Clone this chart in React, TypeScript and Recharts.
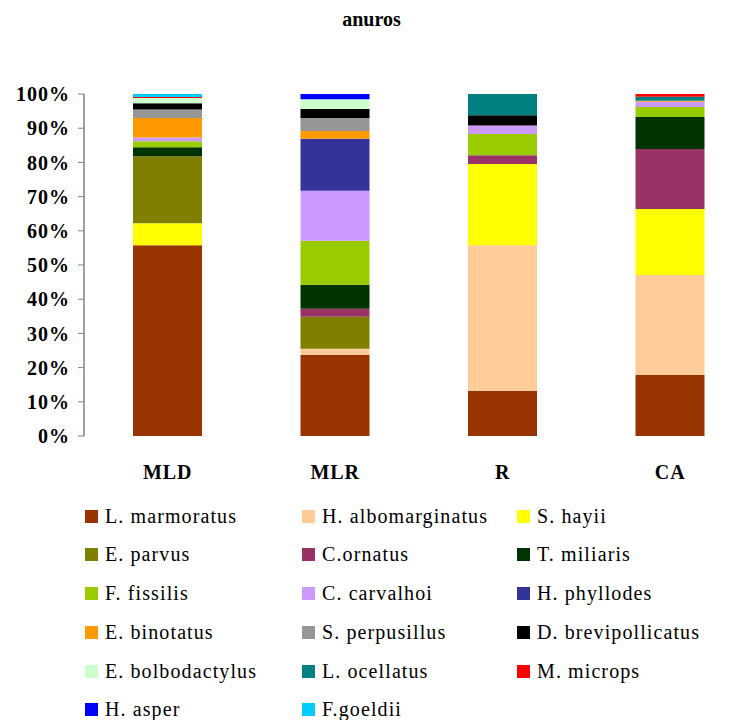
import { BarChart, Bar, XAxis, YAxis } from "recharts"

const categories = ["MLD", "MLR", "R", "CA"]

const lMarmoratus = [55.8, 23.7, 13.2, 17.8]
const hAlbomarginatus = [0, 1.8, 42.6, 29.3]
const sHayii = [6.4, 0, 23.7, 19.3]
const eParvus = [19.6, 9.4, 0, 0]
const cOrnatus = [0, 2.3, 2.6, 17.5]
const tMiliaris = [2.6, 7.0, 0, 9.4]
const fFissilis = [1.8, 12.9, 6.2, 2.9]
const cCarvalhoi = [1.1, 14.6, 2.5, 1.5]
const hPhyllodes = [0, 15.2, 0, 0]
const eBinotatus = [5.7, 2.3, 0, 0.3]
const sPerpusillus = [2.5, 3.8, 0, 0]
const dBrevipollicatus = [1.8, 2.6, 3.0, 0]
const eBolbodactylus = [1.5, 2.9, 0, 0]
const lOcellatus = [0, 0, 6.2, 1.2]
const mMicrops = [0.3, 0, 0, 0.8]
const hAsper = [0, 1.5, 0, 0]
const fGoeldii = [0.9, 0, 0, 0]

const yTicks = [0, 10, 20, 30, 40, 50, 60, 70, 80, 90, 100]
const edgeTicks = [0, 1, 2, 3, 4]

const series = [
  { key: "s1", name: "L. marmoratus", values: lMarmoratus, color: "#993300" },
  { key: "s2", name: "H. albomarginatus", values: hAlbomarginatus, color: "#FFCC99" },
  { key: "s3", name: "S. hayii", values: sHayii, color: "#FFFF00" },
  { key: "s4", name: "E. parvus", values: eParvus, color: "#808000" },
  { key: "s5", name: "C.ornatus", values: cOrnatus, color: "#993366" },
  { key: "s6", name: "T. miliaris", values: tMiliaris, color: "#003300" },
  { key: "s7", name: "F. fissilis", values: fFissilis, color: "#99CC00" },
  { key: "s8", name: "C. carvalhoi", values: cCarvalhoi, color: "#CC99FF" },
  { key: "s9", name: "H. phyllodes", values: hPhyllodes, color: "#333399" },
  { key: "s10", name: "E. binotatus", values: eBinotatus, color: "#FF9900" },
  { key: "s11", name: "S. perpusillus", values: sPerpusillus, color: "#969696" },
  { key: "s12", name: "D. brevipollicatus", values: dBrevipollicatus, color: "#000000" },
  { key: "s13", name: "E. bolbodactylus", values: eBolbodactylus, color: "#CCFFCC" },
  { key: "s14", name: "L. ocellatus", values: lOcellatus, color: "#008080" },
  { key: "s15", name: "M. microps", values: mMicrops, color: "#FF0000" },
  { key: "s16", name: "H. asper", values: hAsper, color: "#0000FF" },
  { key: "s17", name: "F.goeldii", values: fGoeldii, color: "#00CCFF" },
]

const data = categories.map((cat, i) => {
  const row: Record<string, string | number> = { cat }
  series.forEach((s) => {
    row[s.key] = s.values[i]
  })
  return row
})

const serif = "Liberation Serif, DejaVu Serif, serif"

function Legend3Col() {
  return (
    <div
      style={{
        position: "absolute",
        left: 85,
        top: 505,
        display: "grid",
        gridTemplateColumns: "217px 215px 220px",
        gridAutoRows: "38.8px",
        fontFamily: serif,
        fontSize: 20,
        letterSpacing: 1.1,
        color: "#000",
      }}
    >
      {series.map((s) => (
        <div key={s.key} style={{ display: "flex", alignItems: "center", height: 22, whiteSpace: "nowrap" }}>
          <span style={{ width: 13, height: 13, background: s.color, marginRight: 7, flex: "none" }} />
          <span>{s.name}</span>
        </div>
      ))}
    </div>
  )
}

export default function App() {
  return (
    <div
      style={{
        position: "fixed",
        top: 0,
        left: 0,
        width: 743,
        height: 720,
        overflow: "hidden",
        background: "#fff",
      }}
    >
      <div
        style={{
          position: "absolute",
          top: 8,
          left: 0,
          width: 743,
          textAlign: "center",
          fontFamily: serif,
          fontWeight: "bold",
          fontSize: 20,
        }}
      >
        anuros
      </div>
      <BarChart
        width={760}
        height={500}
        data={data}
        margin={{ top: 94, right: 6, left: 0, bottom: 24 }}
        barSize={69}
      >
        <XAxis
          xAxisId="edge"
          type="number"
          domain={[0, 4]}
          ticks={edgeTicks}
          tick={false}
          tickSize={6}
          height={0}
          stroke="#000"
          axisLine={{ stroke: "#000", strokeWidth: 1.5 }}
          tickLine={{ stroke: "#000" }}
        />
        <XAxis
          xAxisId="cat"
          dataKey="cat"
          height={40}
          axisLine={false}
          tickLine={false}
          tickMargin={23}
          tick={{ fill: "#000", fontSize: 20, fontWeight: "bold", fontFamily: serif, letterSpacing: 1 }}
        />
        <YAxis
          width={84}
          domain={[0, 100]}
          ticks={yTicks}
          tickFormatter={(v) => `${v}%`}
          tickSize={6}
          tickMargin={8}
          axisLine={{ stroke: "#808080", strokeWidth: 1.5 }}
          tickLine={{ stroke: "#808080" }}
          tick={{ fill: "#000", fontSize: 20, fontWeight: "bold", fontFamily: serif, letterSpacing: 1 }}
        />
        {series.map((s) => (
          <Bar
            key={s.key}
            xAxisId="cat"
            dataKey={s.key}
            name={s.name}
            stackId="a"
            fill={s.color}
            isAnimationActive={false}
          />
        ))}
      </BarChart>
      <Legend3Col />
    </div>
  )
}
